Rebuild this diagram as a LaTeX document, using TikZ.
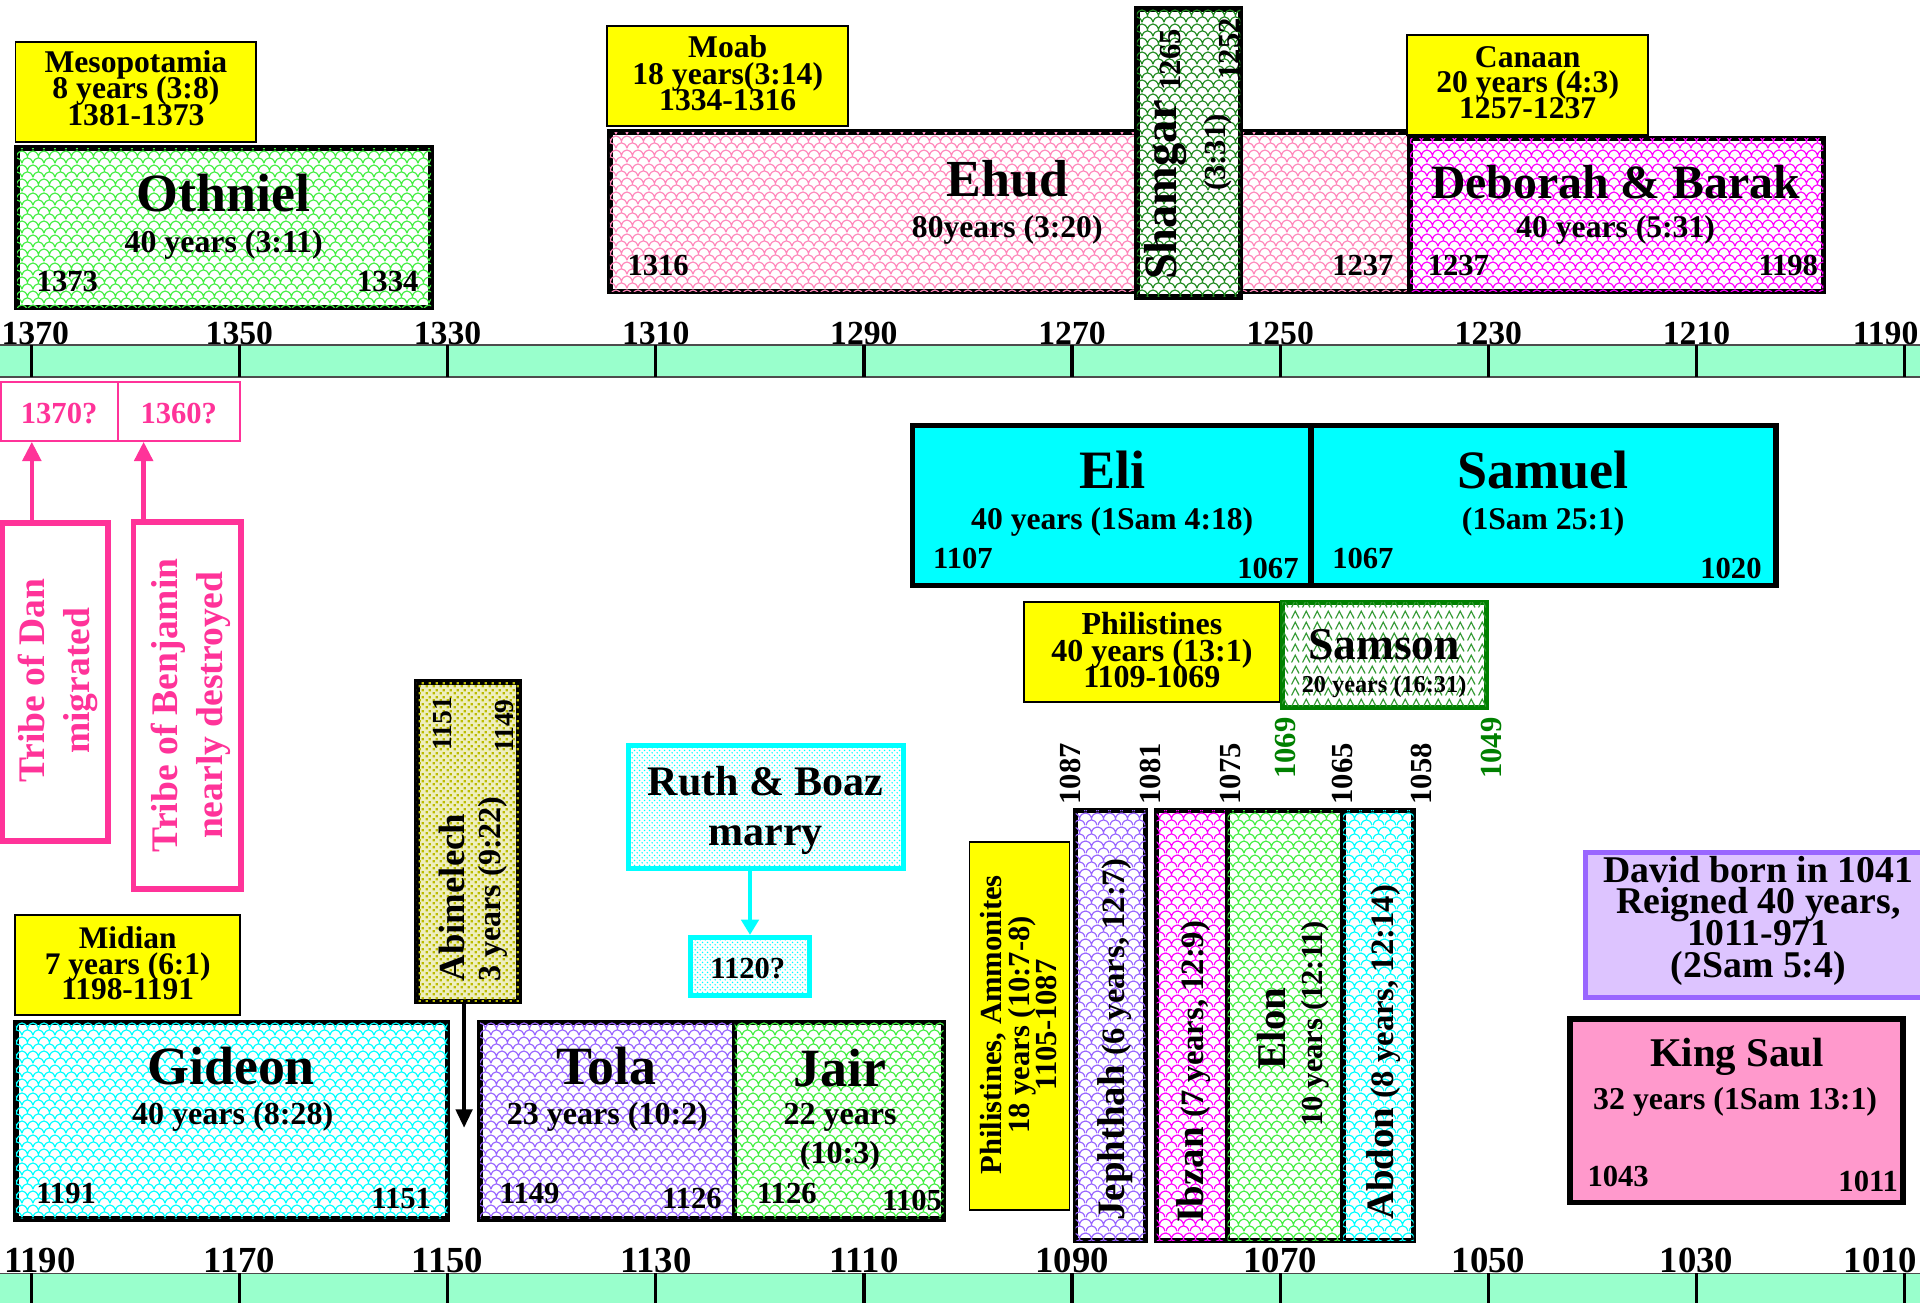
\documentclass[tikz,border=0pt]{standalone}
\usepackage{fontspec}
\setmainfont{Liberation Serif}
\usetikzlibrary{patterns,fit,arrows.meta}
\pgfdeclarepatternformonly{scales}{\pgfqpoint{0pt}{0pt}}{\pgfqpoint{5.6pt}{7pt}}{\pgfqpoint{5.6pt}{7pt}}{%
  \pgfsetlinewidth{0.6pt}%
  \pgfpathmoveto{\pgfqpoint{0pt}{0.4pt}}%
  \pgfpathcurveto{\pgfqpoint{0.9pt}{4.1pt}}{\pgfqpoint{4.7pt}{4.1pt}}{\pgfqpoint{5.6pt}{0.4pt}}%
  \pgfpathmoveto{\pgfqpoint{-2.8pt}{3.9pt}}%
  \pgfpathcurveto{\pgfqpoint{-1.9pt}{7.6pt}}{\pgfqpoint{1.9pt}{7.6pt}}{\pgfqpoint{2.8pt}{3.9pt}}%
  \pgfpathcurveto{\pgfqpoint{3.7pt}{7.6pt}}{\pgfqpoint{7.5pt}{7.6pt}}{\pgfqpoint{8.4pt}{3.9pt}}%
  \pgfusepath{stroke}}
\pgfdeclarepatternformonly{bigdots}{\pgfqpoint{0pt}{0pt}}{\pgfqpoint{3.2pt}{3.2pt}}{\pgfqpoint{3.2pt}{3.2pt}}{%
  \pgfpathrectangle{\pgfqpoint{0.3pt}{0.3pt}}{\pgfqpoint{1.2pt}{1.2pt}}%
  \pgfpathrectangle{\pgfqpoint{1.9pt}{1.9pt}}{\pgfqpoint{1.2pt}{1.2pt}}%
  \pgfusepath{fill}}
\pgfdeclarepatternformonly{finedots}{\pgfqpoint{0pt}{0pt}}{\pgfqpoint{2.6pt}{2.6pt}}{\pgfqpoint{2.6pt}{2.6pt}}{%
  \pgfpathcircle{\pgfqpoint{0.65pt}{0.65pt}}{0.45pt}%
  \pgfpathcircle{\pgfqpoint{1.95pt}{1.95pt}}{0.45pt}%
  \pgfusepath{fill}}
\pgfdeclarepatternformonly{carets}{\pgfqpoint{0pt}{0pt}}{\pgfqpoint{5.5pt}{5.5pt}}{\pgfqpoint{5.5pt}{5.5pt}}{%
  \pgfsetlinewidth{0.6pt}%
  \pgfpathmoveto{\pgfqpoint{0.8pt}{0.8pt}}\pgfpathlineto{\pgfqpoint{2.75pt}{4.6pt}}\pgfpathlineto{\pgfqpoint{4.7pt}{0.8pt}}%
  \pgfusepath{stroke}}
\definecolor{mint}{HTML}{99FFCC}
\definecolor{tribe}{HTML}{FF3399}
\definecolor{ylw}{HTML}{FFFF00}
\definecolor{cyn}{HTML}{00FFFF}
\definecolor{lgreen}{HTML}{44EE44}
\definecolor{lpink}{HTML}{FF99CC}
\definecolor{epink}{HTML}{FF88BB}
\definecolor{mag}{HTML}{FF00FF}
\definecolor{dgreen}{HTML}{228B22}
\definecolor{purp}{HTML}{9966FF}
\definecolor{olivec}{HTML}{BBBB00}
\definecolor{lav}{HTML}{DDC4FF}
\definecolor{samgreen}{HTML}{008000}
\newcommand\fs[2]{\fontsize{#1}{#2}\selectfont\lineskiplimit=-100pt\relax}
\begin{document}
\begin{tikzpicture}[x=0.6pt,y=-0.6pt,
  tx/.style={inner sep=0pt, font=\bfseries\fs{#1}{#1}},
  ml/.style 2 args={inner sep=0pt, align=center, font=\bfseries\fs{#1}{#2}},
  jbox/.style={draw=black, line width=2.7pt, inner sep=0pt},
  pat/.style={fill=white, postaction={pattern=scales, pattern color=#1}},
  ybox/.style={draw=black, line width=0.9pt, fill=ylw, inner sep=0pt},
  pbox/.style={draw=tribe, line width=0.9pt, inner sep=0pt},
  tribebox/.style={draw=tribe, line width=2.7pt, fill=white, inner sep=0pt},
  band/.style={fill=mint, draw=black!70, line width=0.8pt, inner sep=0pt},
  tickline/.style={line width=1.6pt},
  pinkarr/.style={draw=tribe, line width=2.2pt, -{Triangle[width=9pt,length=9.5pt]}},
  cyanarr/.style={draw=cyn, line width=2.4pt, -{Triangle[width=8.5pt,length=7.5pt]}},
  blackarr/.style={draw=black, line width=1.8pt, -{Triangle[width=8pt,length=9pt]}},
  rt/.style={rotate=90}
]
\useasboundingbox (0,0) rectangle (1568,1064);
\clip (0,0) rectangle (1568,1064);

% ---------------- top row ----------------
\node[ybox, fit={(12.7,34)(209,116)}] (meso) {};
\node[ml={15.5}{13.1}] (mesoT) at (111,72) {Mesopotamia\\8 years (3:8)\\1381-1373};
\node[jbox, pat=lgreen, fit={(14,121)(352,251)}] (othniel) {};
\node[tx=26.4] (othN) at (182.7,158) {Othniel};
\node[tx=15.6] (othS) at (182.7,200) {40 years (3:11)};
\node[tx=15] (othA) at (55,230) {1373};
\node[tx=15] (othB) at (316.7,230) {1334};

\node[ybox, fit={(496,21)(692.6,103)}] (moab) {};
\node[ml={15.5}{12.9}] (moabT) at (594.3,60) {Moab\\18 years(3:14)\\1334-1316};
\node[jbox, pat=epink, fit={(498,108)(1152,238)}] (ehud) {};
\node[tx=25.5] (ehudN) at (822.6,145.7) {Ehud};
\node[tx=15.5] (ehudS) at (822.6,188) {80years (3:20)};
\node[tx=15] (ehudA) at (537.5,216.5) {1316};
\node[tx=15] (ehudB) at (1113,216.5) {1237};

\node[jbox, pat=dgreen, fit={(928.5,7.5)(1013,242.5)}] (shamgar) {};
\node[tx=22.7, rt] (shamN) at (952,155) {Shamgar};
\node[tx=15, rt] (shamA) at (956,49) {1265};
\node[tx=15, rt] (shamS) at (994.4,124.5) {(3:31)};
\node[tx=15, rt] (shamB) at (1004,40) {1252};

\node[jbox, pat=mag, fit={(1151.5,113)(1489,238)}] (deborah) {};
\node[ybox, fit={(1149.3,28.6)(1345.9,110.3)}] (canaan) {};
\node[ml={15.5}{12.7}] (canaanT) at (1247.6,67.5) {Canaan\\20 years (4:3)\\1257-1237};
\node[tx=23.4] (debN) at (1319.4,148.4) {Deborah \& Barak};
\node[tx=15.5] (debS) at (1319.4,187.9) {40 years (5:31)};
\node[tx=15] (debA) at (1191,216.5) {1237};
\node[tx=15] (debB) at (1460.4,216.5) {1198};

% ---------------- top axis ----------------
\node[band, fit={(-2,282)(1570,308)}] (axis1) {};
\foreach \i in {0,...,9}{
  \draw[tickline] ({25.5+170*\i},282) -- ({25.5+170*\i},308);
}
\node[tx=16.5, anchor=base west] (ta0) at (1,281) {1370};
\foreach \i/\yr in {1/1350,2/1330,3/1310,4/1290,5/1270,6/1250,7/1230,8/1210}{
  \node[tx=16.5, anchor=base] (ta\i) at ({25.5+170*\i},281) {\yr};
}
\node[tx=16.5, anchor=base east] (ta9) at (1567,281) {1190};

% ---------------- tribes ----------------
\node[pbox, fit={(1,312)(96.7,360)}] (q1370) {};
\node[pbox, fit={(96.7,312)(196,360)}] (q1360) {};
\node[tx=15, text=tribe] (q1370T) at (48.3,337.8) {1370?};
\node[tx=15, text=tribe] (q1360T) at (146,337.8) {1360?};
\node[tribebox, fit={(2,427)(88,687)}] (dan) {};
\node[ml={18.4}{22}, rt, text=tribe] (danT) at (47.5,556) {Tribe of Dan\\migrated};
\node[tribebox, fit={(109,426.5)(197,726)}] (benj) {};
\node[ml={18.4}{22}, rt, text=tribe] (benjT) at (156,576) {Tribe of Benjamin\\nearly destroyed};
\coordinate (danx) at (26,0);
\coordinate (benjx) at (117.3,0);
\draw[pinkarr] (dan.north -| danx) -- (q1370.south -| danx);
\draw[pinkarr] (benj.north -| benjx) -- (q1360.south -| benjx);

% ---------------- Eli / Samuel ----------------
\node[jbox, fill=cyn, fit={(745,347.5)(1070.7,478)}] (eli) {};
\node[jbox, fill=cyn, fit={(1070.7,347.5)(1450.3,478)}] (samuel) {};
\node[tx=26.5] (eliN) at (908.3,383.9) {Eli};
\node[tx=15.5] (eliS) at (908.3,426) {40 years (1Sam 4:18)};
\node[tx=15] (eliA) at (786.4,456) {1107};
\node[tx=15] (eliB) at (1035.5,464.2) {1067};
\node[tx=26.5] (samN) at (1260.3,383.9) {Samuel};
\node[tx=15.5] (samS) at (1260.3,426) {(1Sam 25:1)};
\node[tx=15] (samA) at (1113,456) {1067};
\node[tx=15] (samB) at (1413.6,464.2) {1020};

\node[ybox, fit={(836.2,491.4)(1045.3,573)}] (phil) {};
\node[ml={15.7}{13.1}] (philT) at (940.7,531) {Philistines\\40 years (13:1)\\1109-1069};
\node[draw=samgreen, line width=2.4pt, inner sep=0pt, fill=white, postaction={pattern=carets, pattern color=samgreen!80}, fit={(1047,492)(1214,578)}] (samson) {};
\node[tx=22.3] (samsonN) at (1130.3,526.8) {Samson};
\node[tx=11.9] (samsonS) at (1130.3,560.8) {20 years (16:31)};

\node[tx=15, rt] (y1087) at (874.6,632) {1087};
\node[tx=15, rt] (y1081) at (939.7,632) {1081};
\node[tx=15, rt] (y1075) at (1005,632) {1075};
\node[tx=15, rt, text=samgreen] (y1069) at (1049.5,611) {1069};
\node[tx=15, rt] (y1065) at (1096.5,632) {1065};
\node[tx=15, rt] (y1058) at (1161,632) {1058};
\node[tx=15, rt, text=samgreen] (y1049) at (1218,611) {1049};

% ---------------- Ruth ----------------
\node[draw=cyn, line width=2.4pt, inner sep=0pt, fill=white, postaction={pattern=finedots, pattern color=cyn}, fit={(513,609)(737.5,709)}] (ruth) {};
\node[ml={20.6}{24.3}] (ruthT) at (625.3,662) {Ruth \& Boaz\\marry};
\node[draw=cyn, line width=2.4pt, inner sep=0pt, fill=white, postaction={pattern=finedots, pattern color=cyn}, fit={(564,765.5)(661,813)}] (q1120) {};
\node[tx=15] (q1120T) at (610.7,790.6) {1120?};
\draw[cyanarr] (ruth.south -| q1120.north) -- (q1120.north);

% ---------------- Abimelech ----------------
\node[jbox, fill=olivec!25, postaction={pattern=bigdots, pattern color=olivec}, fit={(340.5,557)(424,818)}] (abim) {};
\node[tx=18, rt] (abimN) at (369,733) {Abimelech};
\node[tx=15.7, rt] (abimS) at (402.6,726) {3 years (9:22)};
\node[tx=13.5, rt] (abimA) at (361,591) {1151};
\node[tx=13.5, rt] (abimB) at (412,593) {1149};
\coordinate (abimend) at (379,921);
\draw[blackarr] (abim.south -| abimend) -- (abimend);

% ---------------- lower row ----------------
\node[ybox, fit={(12.5,747)(196,829)}] (midian) {};
\node[ml={15.4}{12.6}] (midianT) at (104.3,786.7) {Midian\\7 years (6:1)\\1198-1191};
\node[jbox, pat=cyn, fit={(13,835)(365.5,995.5)}] (gideon) {};
\node[tx=26.4] (gidN) at (188.7,871) {Gideon};
\node[tx=15.7] (gidS) at (190,912) {40 years (8:28)};
\node[tx=15] (gidA) at (54,974.5) {1191};
\node[tx=15] (gidB) at (327.6,978.6) {1151};
\node[jbox, pat=purp, fit={(392,835)(600,995.5)}] (tola) {};
\node[tx=26.4] (tolaN) at (495,871) {Tola};
\node[tx=15.7] (tolaS) at (496,912) {23 years (10:2)};
\node[tx=15] (tolaA) at (432.6,974.5) {1149};
\node[tx=15] (tolaB) at (565,978.6) {1126};
\node[jbox, pat=lgreen, fit={(600,835)(770.7,995.5)}] (jair) {};
\node[tx=26.4] (jairN) at (686,872) {Jair};
\node[tx=15.7] (jairS) at (686,912.6) {22 years};
\node[tx=15.7] (jairR) at (686,944) {(10:3)};
\node[tx=15] (jairA) at (642.6,974.5) {1126};
\node[tx=15] (jairB) at (745,980) {1105};

\node[ybox, fit={(791.7,687.4)(873.4,988.2)}] (philamm) {};
\node[ml={15}{13.5}, rt] (philammT) at (832,837) {Philistines, Ammonites\\18 years (10:7-8)\\1105-1087};
\node[jbox, pat=purp, fit={(878.5,662)(935.5,1013)}] (jeph) {};
\node[tx=19, rt] (jephT) at (911,849) {Jephthah {\fs{16}{16}(6 years, 12:7)}};
\node[jbox, pat=mag, fit={(944.5,662)(1002.5,1013)}] (ibzan) {};
\node[tx=19, rt] (ibzanT) at (974.5,875) {Ibzan {\fs{16}{16}(7 years, 12:9)}};
\node[jbox, pat=lgreen, fit={(1002.5,662)(1096.9,1013)}] (elon) {};
\node[tx=20, rt] (elonN) at (1038,840) {Elon};
\node[tx=15, rt] (elonS) at (1074,836) {10 years (12:11)};
\node[jbox, pat=cyn, fit={(1096.9,662)(1154.5,1013)}] (abdon) {};
\node[tx=19, rt] (abdonT) at (1130,859.5) {Abdon {\fs{16}{16}(8 years, 12:14)}};

\node[draw=purp, line width=2.4pt, fill=lav, inner sep=0pt, fit={(1294.5,696)(1572,814.5)}] (david) {};
\node[ml={18.5}{15.6}] (davidT) at (1436,752) {David born in 1041\\Reigned 40 years,\\1011-971\\(2Sam 5:4)};
\node[jbox, fill=lpink, fit={(1282,832)(1554,982)}] (saul) {};
\node[tx=20] (saulN) at (1418.5,863) {King Saul};
\node[tx=15.6] (saulS) at (1417,899.7) {32 years (1Sam 13:1)};
\node[tx=15] (saulA) at (1321.5,961) {1043};
\node[tx=15] (saulB) at (1525.7,965) {1011};

% ---------------- bottom axis ----------------
\node[band, fit={(-2,1040)(1570,1075)}] (axis2) {};
\foreach \i in {0,...,9}{
  \draw[tickline] ({25.5+170*\i},1040) -- ({25.5+170*\i},1070);
}
\node[tx=18, anchor=base west] (tb0) at (3,1039.5) {1190};
\foreach \i/\yr in {1/1170,2/1150,3/1130,4/1110,5/1090,6/1070,7/1050,8/1030}{
  \node[tx=18, anchor=base] (tb\i) at ({25.5+170*\i},1039.5) {\yr};
}
\node[tx=18, anchor=base east] (tb9) at (1566,1039.5) {1010};
\end{tikzpicture}
\end{document}
